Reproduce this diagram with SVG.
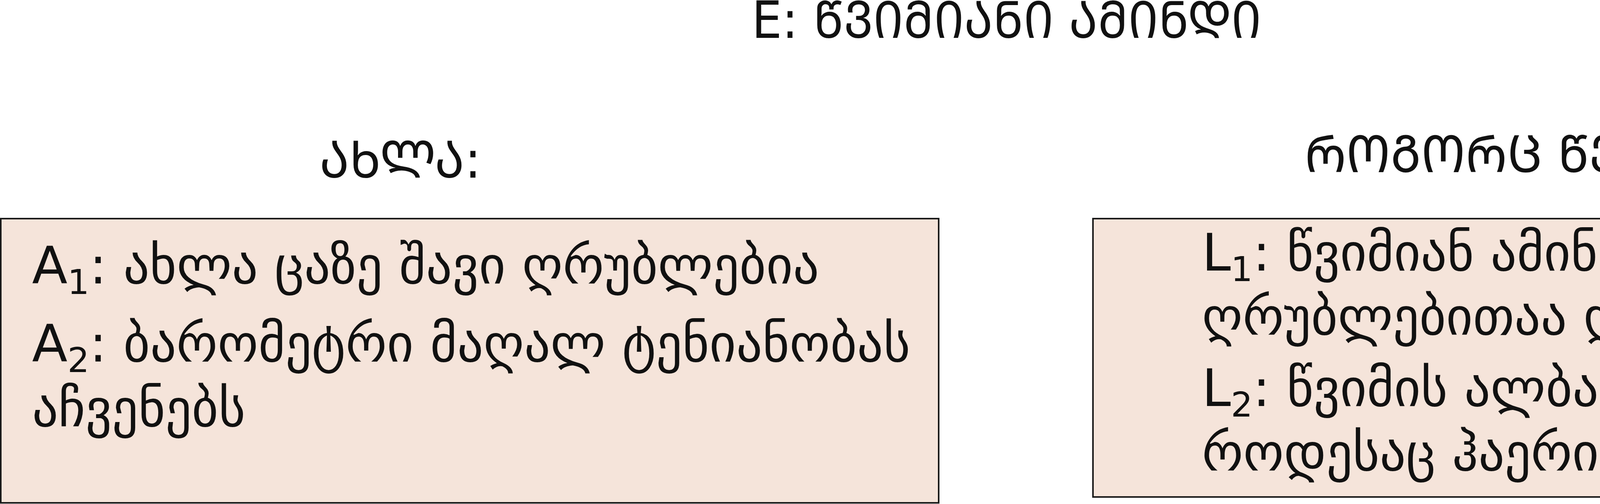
<svg xmlns="http://www.w3.org/2000/svg" width="5201" height="1291" viewBox="0 0 5201 1291">
<style>
.t{font-family:"DejaVu Sans","Noto Sans Georgian",sans-serif;font-size:132.6px;fill:#111111}
.h{font-family:"DejaVu Sans","Noto Sans Georgian",sans-serif;font-size:132px;fill:#111111}
.box{fill:#F5E4DA;stroke:#1a1a1a;stroke-width:4}
.sub{font-size:88px}
</style>
<rect width="5201" height="1291" fill="#ffffff"/>
<g id="title"><text class="h" x="2577" y="97" text-anchor="middle" textLength="1305" lengthAdjust="spacingAndGlyphs">E: ᲬᲕᲘᲛᲘᲐᲜᲘ ᲐᲛᲘᲜᲓᲘ</text></g>
<g id="label-now"><text class="h" x="1025" y="455" text-anchor="middle" textLength="414" lengthAdjust="spacingAndGlyphs">ᲐᲮᲚᲐ:</text></g>
<g id="label-rule"><text class="h" x="3845" y="441" text-anchor="middle" textLength="1010" lengthAdjust="spacingAndGlyphs">ᲠᲝᲒᲝᲠᲪ ᲬᲔᲡᲘ:</text></g>
<g id="node-now">
<rect class="box" x="2" y="560" width="2401" height="728"/>
<text class="t" x="82" y="726">A<tspan class="sub" dy="27">1</tspan><tspan dy="-27">: ახლა ცაზე შავი ღრუბლებია</tspan></text>
<text class="t" x="82" y="926">A<tspan class="sub" dy="27">2</tspan><tspan dy="-27">: ბარომეტრი მაღალ ტენიანობას</tspan></text>
<text class="t" x="82" y="1092">აჩვენებს</text>
</g>
<g id="node-rule">
<rect class="box" x="2798" y="560" width="2400" height="713"/>
<text class="t" x="3077" y="693">L<tspan class="sub" dy="27">1</tspan><tspan dy="-27">: წვიმიან ამინდში, ცა შავი</tspan></text>
<text class="t" x="3077" y="857">ღრუბლებითაა დაფარული</text>
<text class="t" x="3077" y="1040">L<tspan class="sub" dy="27">2</tspan><tspan dy="-27">: წვიმის ალბათობა მაღალია,</tspan></text>
<text class="t" x="3077" y="1205">როდესაც ჰაერი ტენიანია</text>
</g>
<g id="connectors"></g>
</svg>
